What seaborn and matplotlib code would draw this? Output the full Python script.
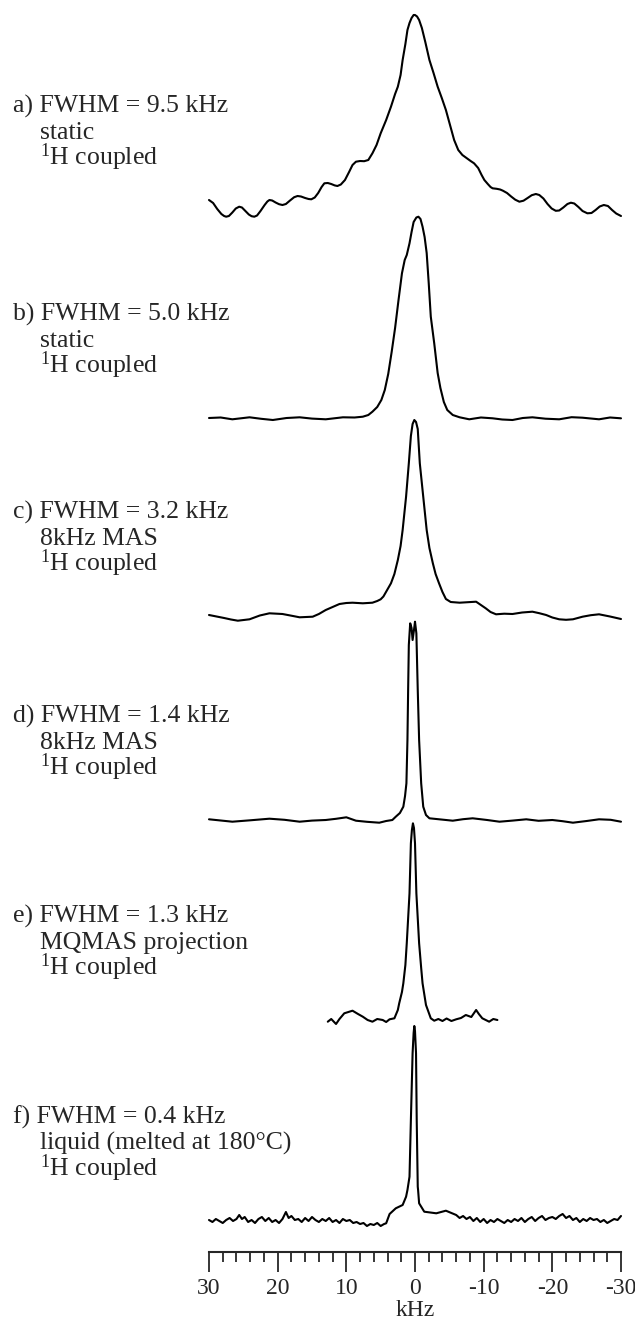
import matplotlib
matplotlib.use("Agg")
import matplotlib.pyplot as plt
import seaborn as sns
import pandas as pd

# ---------------- data (kHz, relative intensity) ----------------
a_khz = [30.0, 29.4, 28.8, 28.2, 27.8, 27.5, 27.1, 26.6, 26.1, 25.6, 25.2, 24.7, 24.2, 23.8, 23.4, 23.0,
         22.5, 21.9, 21.5, 21.2, 20.8, 20.3, 19.8, 19.3, 18.8, 18.2, 17.6, 17.1, 16.6, 16.0, 15.5, 15.1,
         14.6, 14.1, 13.6, 13.2, 12.7, 12.2, 11.7, 11.3, 10.8, 10.2, 9.6, 9.1, 8.6, 8.0, 7.4, 6.8,
         6.2, 5.6, 5.0, 4.2, 3.5, 2.9, 2.5, 2.1, 1.8, 1.4, 1.1, 0.8, 0.5, 0.2, 0.0, -0.3, -0.6, -1.0,
         -1.5, -2.1, -2.7, -3.3, -3.9, -4.5, -5.1, -5.7, -6.3, -6.9, -7.5, -8.1, -8.6, -9.2, -9.7,
         -10.1, -10.6, -11.0, -11.3, -11.9, -12.4, -12.8, -13.4, -14.0, -14.6, -15.2, -15.8, -16.4,
         -17.0, -17.6, -18.1, -18.7, -19.3, -19.9, -20.5, -21.0, -21.6, -22.2, -22.7, -23.2, -23.8,
         -24.4, -25.1, -25.7, -26.3, -26.9, -27.5, -28.1, -28.7, -29.3, -30.0]
a_int = [10, 7, 1, -4, -6, -6.7, -6, -2.5, 1.5, 3.3, 2.5, -1, -4.5, -6.2, -6.7, -5.5,
         -1, 5, 8.5, 10, 9.5, 7.5, 5.8, 5, 6, 9.5, 12.8, 14, 13.5, 12, 11, 10.7,
         12.5, 17, 23, 26.7, 27, 26, 24.6, 24, 25.5, 30, 38, 45, 48.3, 49, 48.8, 50,
         56.7, 65, 76.7, 90, 103.3, 116, 123.3, 135, 150, 166, 180, 187, 192, 195, 195, 193.5, 190, 182,
         168, 150, 137, 123.3, 112, 100, 85, 70, 60, 55, 52, 49, 46.7, 42, 35,
         30, 26, 23, 21.7, 21.2, 20.5, 19.3, 17, 13.5, 10.3, 8.3, 9.3, 12,
         14.8, 16, 15, 11.5, 6, 1.5, -0.8, -0.5, 2.5, 6, 7.3, 6.5, 3,
         -1, -3.3, -3, 0, 3.5, 5, 4, 0, -3.5, -6]

b_khz = [30.0, 28.3, 26.6, 24.1, 22.4, 20.7, 18.7, 16.8, 15.0, 13.0, 10.5, 8.8, 7.6, 6.8, 6.2, 5.5,
         4.9, 4.4, 3.9, 3.4, 2.9, 2.4, 1.9, 1.5, 1.2, 0.8, 0.5, 0.2, -0.2, -0.5, -0.8, -1.1, -1.4,
         -1.7, -2.0, -2.3, -2.8, -3.3, -3.7, -4.2, -4.7, -5.5, -6.5, -7.9, -9.6, -11.3, -12.7, -14.2,
         -15.7, -17.1, -19.0, -21.0, -22.8, -24.4, -26.8, -28.4, -30.0]
b_int = [0, 0.5, -1.3, 0.7, -0.8, -2, 0, 0.7, -0.6, -1.3, 0.7, 0.5, 1.3, 3, 6.3, 11,
         18, 28, 44, 66, 90, 118, 144.7, 158, 163, 174.7, 186, 196, 200.5, 201.3, 199, 191.3, 181,
         165, 134.7, 101.3, 74.7, 45, 30, 16, 8, 3, 0.7, -1.3, 0.5, -0.3, -1.5, -2,
         0, 0.7, -0.7, -1.3, 0.8, 0.3, -1.3, 0.5, -0.3]

c_khz = [30.0, 28.9, 27.8, 26.8, 25.8, 24.1, 22.6, 21.2, 19.3, 18.0, 16.8, 14.9, 14.0, 13.0, 12.0,
         11.0, 10.0, 9.1, 7.6, 6.2, 5.5, 5.0, 4.6, 4.2, 3.5, 3.0, 2.5, 2.1, 1.8, 1.3, 0.9, 0.6,
         0.35, 0.1, -0.15, -0.4, -0.7, -1.2, -1.7, -2.1, -2.6, -3.0, -3.5, -4.0, -4.5, -5.2, -6.5,
         -7.7, -8.9, -9.6, -10.3, -11.0, -11.8, -13.0, -14.2, -15.6, -17.1, -18.1, -19.1, -20.0,
         -21.0, -22.0, -23.0, -24.4, -25.6, -26.8, -28.4, -30.0]
c_int = [1, -0.5, -2, -3.5, -4.7, -3.3, 0.5, 2.7, 2, 0.3, -1.3, -0.7, 2, 6, 9,
         12, 13, 13.3, 12.7, 13.3, 15, 16.7, 19.5, 24.3, 32.7, 42, 56, 70, 86, 119.3, 152.7, 180,
         192, 196, 194, 187, 152.7, 119.3, 86, 68, 52.7, 42, 32.7, 24, 17, 14, 13.3,
         13.8, 14.3, 11, 7.7, 4, 1.7, 2.3, 2, 3.5, 4.3, 2.8, 1, -1.5,
         -3.3, -3.8, -3.3, -0.7, 0.8, 1.7, -0.5, -3]

d_khz = [30.0, 28.3, 26.6, 24.0, 21.2, 19.0, 16.8, 15.0, 13.0, 11.5, 10.0, 8.6, 7.0, 5.2, 4.2,
         3.3, 2.8, 2.2, 1.7, 1.45, 1.25, 1.1, 1.0, 0.9, 0.7, 0.5, 0.35, 0.15, 0.0, -0.2, -0.4,
         -0.6, -0.9, -1.2, -1.6, -2.1, -3.8, -5.5, -7.0, -8.4, -10.5, -12.3, -14.2, -16.2, -18.0,
         -20.0, -21.5, -23.0, -25.0, -26.8, -28.5, -30.0]
d_int = [0.7, -0.5, -1.7, -0.3, 1.3, 0.2, -1.7, -0.6, 0, 1.2, 2.7, -0.7, -1.8, -2.7, -1,
         0, 3.3, 7, 13.3, 24, 36.7, 80, 130, 175, 196.7, 192, 180, 190, 198.3, 186.7, 130,
         80, 36.7, 13.3, 5, 1.7, 0.5, -0.7, 0.8, 1.7, 0, -1.7, -0.6, 0.7, -0.8,
         0, -1.2, -2.7, -1, 0.7, 0.2, -1.7]

e_khz = [12.7, 12.2, 11.5, 11.0, 10.3, 9.7, 9.1, 8.3, 7.6, 6.9, 6.2, 5.5, 4.7, 4.2, 3.7, 3.0, 2.5,
         2.3, 1.9, 1.7, 1.4, 1.2, 0.8, 0.6, 0.45, 0.3, 0.15, 0.0, -0.2, -0.6, -0.9, -1.1, -1.6, -2.3,
         -2.8, -3.4, -4.0, -4.6, -5.3, -6.0, -6.7, -7.4, -8.2, -8.9, -9.3, -9.8, -10.3, -10.8,
         -11.4, -12.0]
e_int = [-1.7, 1, -4, 1, 6.7, 8, 9.3, 6, 3.3, 0, -1.7, 1, 0, -2, 0.7, 1.7, 10,
         16.7, 28, 36.7, 55, 76.7, 126.7, 176.7, 190, 196.7, 192, 176.7, 126.7, 76.7, 52, 36.7, 15, 1.7,
         -0.7, 1, -1, 1.5, -1, 0.7, 2, 5, 3, 10, 6, 1.7, 0, -1.7,
         1, 0]

f_khz = [30.0, 29.5, 29.0, 28.5, 28.0, 27.5, 27.0, 26.5, 26.0, 25.6, 25.2, 24.8, 24.3, 23.8, 23.3,
         22.8, 22.3, 21.8, 21.3, 20.8, 20.3, 19.8, 19.3, 18.8, 18.4, 18.0, 17.5, 17.0, 16.5, 16.0,
         15.5, 15.0, 14.5, 14.0, 13.5, 13.0, 12.5, 12.0, 11.5, 11.0, 10.5, 10.0, 9.5, 9.0, 8.5, 8.0,
         7.5, 7.0, 6.5, 6.0, 5.5, 5.0, 4.5, 4.2, 3.7, 2.8, 1.8, 1.3, 1.1, 0.8, 0.6, 0.35, 0.2, 0.1,
         0.0, -0.15, -0.25, -0.4, -0.45, -0.6, -1.35, -3.1, -4.5, -6.0, -6.5, -7.0, -7.5, -8.0, -8.5,
         -9.0, -9.5, -10.0, -10.5, -11.0, -11.5, -12.0, -12.5, -13.0, -13.5, -14.0, -14.5, -15.0,
         -15.5, -16.0, -16.5, -17.0, -17.5, -18.0, -18.5, -19.0, -19.5, -20.0, -20.5, -21.0, -21.5,
         -22.0, -22.5, -23.0, -23.5, -24.0, -24.5, -25.0, -25.5, -26.0, -26.5, -27.0, -27.5, -28.0,
         -28.5, -29.0, -29.5, -30.0]
f_int = [1, -1, 2, 0, -2, 1, 3, 0, 2, 6, 2, 4, -1, 1, -2,
         2, 4, 0, 3, -1, 1, -2, 2, 9, 3, 5, 1, 2, -1, 3,
         0, 4, 1, -1, 2, 0, 3, -1, 1, -2, 2, 0, 1, -2, -1, -3,
         -2, -5, -3, -4, -2, -5, -3, -2.3, 7, 12.7, 16, 24.3, 31, 44.3, 101, 167.7, 188, 195,
         190, 167.7, 101, 34.3, 31, 17.7, 9.3, 7.7, 10.3, 6, 3, 5, 2, 4, 0,
         3, -1, 2, -2, 1, -1, 2, 0, -2, 1, -1, 2, 0,
         3, -1, 2, 4, 0, 3, 5, 1, 3, 4, 2, 5, 7,
         3, 5, 1, 3, -1, 2, 0, 3, 1, 2, -1, 1, -2,
         0, 2, 1, 5]

spectra = [(a_khz, a_int), (b_khz, b_int), (c_khz, c_int),
           (d_khz, d_int), (e_khz, e_int), (f_khz, f_int)]

label_heads = ["a) FWHM = 9.5 kHz", "b) FWHM = 5.0 kHz", "c) FWHM = 3.2 kHz",
               "d) FWHM = 1.4 kHz", "e) FWHM = 1.3 kHz", "f) FWHM = 0.4 kHz"]
label_modes = ["static", "static", "8kHz MAS", "8kHz MAS", "MQMAS projection",
               "liquid (melted at 180°C)"]
label_coupling = r"$^{1}$H coupled"

tick_major = [30, 20, 10, 0, -10, -20, -30]
tick_labels = ["30", "20", "10", "0", "-10", "-20", "-30"]
x_label = "kHz"

# ---------------- layout ----------------
W, H = 635, 1323
baselines_px = [210, 418, 616, 820, 1020, 1221]   # pixel row of each trace baseline
axis_px = 1252

sns.set_style("ticks")
plt.rcParams["font.family"] = ["Liberation Serif", "DejaVu Serif"]
plt.rcParams["mathtext.default"] = "regular"

fig = plt.figure(figsize=(W / 100, H / 100), dpi=100)
ax = fig.add_axes([209 / W, (H - axis_px) / H, 412 / W, axis_px / H])

for (kx, ki), bpx in zip(spectra, baselines_px):
    off = axis_px - bpx
    df = pd.DataFrame({"khz": kx, "y": [v + off for v in ki]})
    sns.lineplot(data=df, x="khz", y="y", ax=ax, color="black", lw=1.5,
                 estimator=None, sort=False, clip_on=False)

ax.set_xlim(30, -30)
ax.set_ylim(0, axis_px)
ax.set_yticks([])
ax.set_ylabel("")
for s in ["top", "left", "right"]:
    ax.spines[s].set_visible(False)
ax.spines["bottom"].set_linewidth(1.5)
ax.set_xticks(tick_major)
ax.set_xticklabels(tick_labels)
ax.set_xticks(range(-30, 31, 2), minor=True)
ax.tick_params(axis="x", which="major", length=14.4, width=1.1, pad=4,
               labelsize=17, direction="out", color="black")
ax.tick_params(axis="x", which="minor", length=7.2, width=1.1, direction="out", color="black")
ax.set_xlabel(x_label, fontsize=17, labelpad=1)

# labels
FS = 18.5
for head, mode, bpx in zip(label_heads, label_modes, baselines_px):
    L = bpx - 97
    fig.text(13 / W, 1 - L / H, head, fontsize=FS, va="baseline", ha="left")
    fig.text(40 / W, 1 - (L + 26) / H, mode, fontsize=FS, va="baseline", ha="left")
    fig.text(40 / W, 1 - (L + 52) / H, label_coupling, fontsize=FS, va="baseline", ha="left")

fig.savefig("out.png", dpi=100)
